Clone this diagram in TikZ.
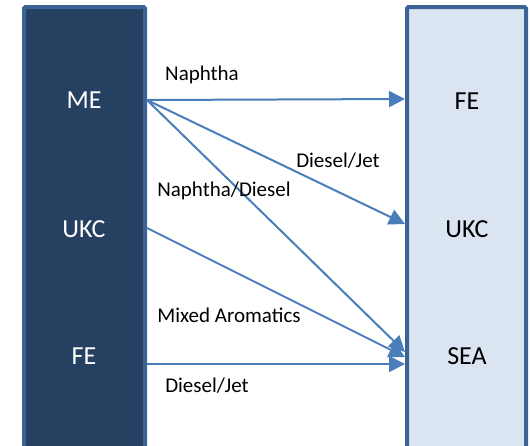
\documentclass[tikz,border=0pt]{standalone}
\usepackage{fontspec}
\setmainfont{Carlito}
\usetikzlibrary{arrows.meta}
\definecolor{navy}{HTML}{254061}
\definecolor{rim}{HTML}{3B6396}
\definecolor{pale}{HTML}{DBE5F1}
\definecolor{arrowblue}{HTML}{4A7EBB}
\tikzset{
  region/.style={draw=rim, line width=4pt, rounded corners=1.5pt},
  trade/.style={draw=arrowblue, line width=2pt, -{Triangle[length=16pt,width=16pt]}},
  product/.style={font=\fontsize{21}{24}\selectfont},
  place/.style={font=\fontsize{26}{29}\selectfont}
}
\begin{document}
\begin{tikzpicture}[x=1pt,y=-1pt]
  \useasboundingbox (0,0) rectangle (530,445);
  \clip (0,0) rectangle (530,445);
  % exporting and importing regions
  \draw[region, fill=navy] (24,7) rectangle (145,460);
  \draw[region, fill=pale] (407,7) rectangle (526,460);
  \draw
    (84,100) node[place, text=white] (me){ME}
    (84,229) node[place, text=white] (ukc){UKC}
    (84,356) node[place, text=white] (fe){FE}
    (467,101) node[place] (tofe){FE}
    (467,229) node[place] (toukc){UKC}
    (467,356) node[place] (tosea){SEA};
  % ports on the box edges
  \coordinate (meout) at (147,100);
  \coordinate (ukcout) at (147,228);
  \coordinate (feout) at (147,364);
  \coordinate (fein) at (405,99);
  \coordinate (ukcin) at (405,224);
  \coordinate (seain) at (405,352);
  \coordinate (seamid) at (405,357);
  \coordinate (sealow) at (405,364);
  \begin{scope}[trade]
    \draw (meout) to (fein);
    \draw (meout) to (ukcin);
    \draw (meout) to (seain);
    \draw (ukcout) to (seamid);
    \draw (feout) to (sealow);
  \end{scope}
  \draw
    (202,75) node[product] (naphtha){Naphtha}
    (338,161) node[product] (dieseljet){Diesel/Jet}
    (224,191) node[product] (mixdiesel){Naphtha/Diesel}
    (229,315) node[product] (aromatics){Mixed Aromatics}
    (207,386) node[product] (feproduct){Diesel/Jet};
\end{tikzpicture}
\end{document}
